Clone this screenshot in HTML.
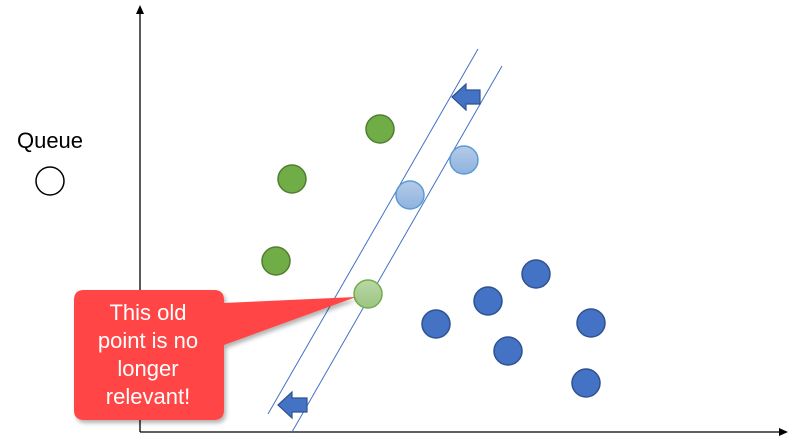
<!DOCTYPE html>
<html><head><meta charset="utf-8"><style>
body{margin:0;background:#fff;}
svg{display:block;font-family:"Liberation Sans",sans-serif;}
</style></head><body>
<svg id="c" width="797" height="448">
<defs>
<linearGradient id="lb" x1="0" y1="0" x2="0" y2="1"><stop offset="0" stop-color="#b4cbe8"/><stop offset="1" stop-color="#8fb2de"/></linearGradient>
<linearGradient id="lg" x1="0" y1="0" x2="0" y2="1"><stop offset="0" stop-color="#b9d7a6"/><stop offset="1" stop-color="#9cc484"/></linearGradient>
<filter id="sh" x="-10%" y="-10%" width="130%" height="130%"><feDropShadow dx="2" dy="3" stdDeviation="2" flood-color="#000" flood-opacity="0.3"/></filter>
</defs>
<line x1="140" y1="432" x2="140" y2="12" stroke="#000" stroke-width="1.3"/>
<polygon points="140,5 136,14 144,14" fill="#000"/>
<line x1="140" y1="432" x2="780" y2="432" stroke="#000" stroke-width="1.3"/>
<polygon points="788,432 779,428 779,436" fill="#000"/>
<text x="50" y="148" font-size="22" text-anchor="middle" fill="#000">Queue</text>
<circle cx="50" cy="181" r="14" fill="#fff" stroke="#000" stroke-width="1.5"/>
<line x1="268" y1="414" x2="478" y2="49" stroke="#4472c4" stroke-width="1"/>
<line x1="292" y1="432" x2="502" y2="66" stroke="#4472c4" stroke-width="1"/>
<polygon points="452,97 466,84 466,90 480,90 480,104 466,104 466,110" fill="#4472c4" stroke="#2f528f" stroke-width="1.2"/>
<polygon points="278,405 292,392 292,398 307,398 307,412 292,412 292,418" fill="#4472c4" stroke="#2f528f" stroke-width="1.2"/>
<g id="pts"></g>
<g filter="url(#sh)">
<path d="M84,290 H214 Q224,290 224,300 V303 L356,297 L224,345 V410 Q224,420 214,420 H84 Q74,420 74,410 V300 Q74,290 84,290 Z" fill="#ff4444"/>
</g>
<g font-size="22" fill="#fff" text-anchor="middle">
<text x="148" y="320">This old</text>
<text x="148" y="348">point is no</text>
<text x="148" y="376">longer</text>
<text x="148" y="404">relevant!</text>
</g>
</svg>
<script>
const greenX=[240,152,136];
const greenY=[303,253,171];
const oldX=[228];
const oldY=[138];
const supportX=[270,324];
const supportY=[237,272];
const blueX=[396,348,296,451,368,446];
const blueY=[158,131,108,109,81,49];
const sx=v=>140+v, sy=v=>432-v;
const g=document.getElementById('pts');
function draw(xs,ys,fill,stroke,name){
  xs.forEach((x,i)=>{
    const c=document.createElementNS('http://www.w3.org/2000/svg','circle');
    c.setAttribute('cx',sx(x));c.setAttribute('cy',sy(ys[i]));c.setAttribute('r',14);
    c.setAttribute('fill',fill);c.setAttribute('stroke',stroke);c.setAttribute('stroke-width',1.5);
    
    
    g.appendChild(c);
  });
}
draw(greenX,greenY,'#70ad47','#507e32','green-point');
draw(oldX,oldY,'url(#lg)','#70ad47','old-green-point');
draw(supportX,supportY,'url(#lb)','#5b9bd5','support-point');
draw(blueX,blueY,'#4472c4','#2f528f','blue-point');
</script>
</body></html>
